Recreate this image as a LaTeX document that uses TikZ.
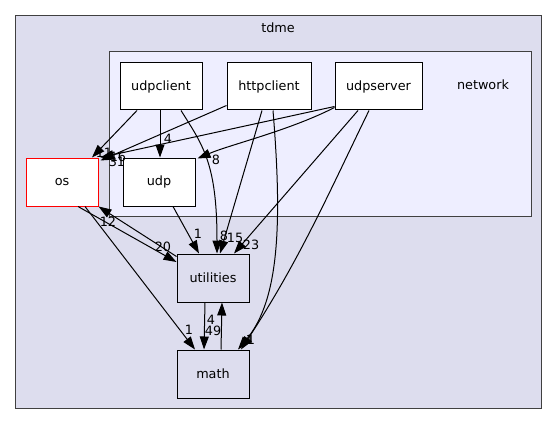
\documentclass[tikz,border=0pt]{standalone}
\usepackage{fontspec}
\setmainfont{DejaVu Sans}
\usetikzlibrary{arrows.meta,calc}
\definecolor{clusterouter}{HTML}{DDDDEE}
\definecolor{clusterinner}{HTML}{EEEEFF}
\definecolor{clusterframe}{HTML}{404040}
\begin{document}
\begin{tikzpicture}[x=1pt,y=-1pt,
  font=\fontsize{12.8}{15}\selectfont,
  dirbox/.style={draw=black, line width=1pt, minimum height=47pt, inner sep=0pt},
  cluster/.style={draw=clusterframe, line width=1pt},
  edge/.style={draw=black, line width=1pt, -{Triangle[length=13pt,width=9pt]}},
  elabel/.style={inner sep=0pt, font=\fontsize{12.8}{15}\selectfont}]
\fill[white] (0,0) rectangle (559,425);
\useasboundingbox (0,0) rectangle (559,425);
% clusters
\draw[cluster, fill=clusterouter] (15.5,15.5) rectangle (541,408);
\node[inner sep=0pt] (tdmelabel) at (278,28) {tdme};
\draw[cluster, fill=clusterinner] (109,52) rectangle (531,216);
\node[inner sep=0pt] (networklabel) at (483,85) {network};
% nodes
\node[dirbox, fill=white, minimum width=82pt] (udpclient) at (161,86.5) {udpclient};
\node[dirbox, fill=white, minimum width=84pt] (httpclient) at (269,86.5) {httpclient};
\node[dirbox, fill=white, minimum width=87pt] (udpserver) at (378.5,86.5) {udpserver};
\node[dirbox, draw=red, fill=white, minimum width=72pt, minimum height=48pt] (os) at (62,182) {os};
\node[dirbox, fill=white, minimum width=72pt, minimum height=48pt] (udp) at (159,182) {udp};
\node[dirbox, fill=clusterouter, minimum width=72pt, minimum height=48pt] (utilities) at (213,278) {utilities};
\node[dirbox, fill=clusterouter, minimum width=72pt, minimum height=48pt] (math) at (213,374) {math};
% edges
\draw[edge] ($(udpclient.south)+(-24,0)$) -- ($(os.north)+(30,0)$);
\draw[edge] ($(udpclient.south)+(-1,0)$) -- ($(udp.north)+(1,0)$);
\draw[edge] ($(udpclient.south)+(20,0)$) .. controls +(22,35) and +(0,-90) .. ($(utilities.north)+(4,0)$);
\draw[edge] ($(httpclient.west)+(0,19)$) -- ($(os.north east)+(2,3)$);
\draw[edge] ($(httpclient.south)+(-7,0)$) -- ($(utilities.north)+(7,0)$);
\draw[edge] ($(httpclient.south)+(4,0)$) .. controls +(9,110) and +(42,-50) .. ($(math.north)+(25,0)$);
\draw[edge] ($(udpserver.west)+(0,20)$) -- ($(os.north east)+(2,0)$);
\draw[edge] ($(udpserver.west)+(0,21)$) .. controls +(-45,23) and +(33,-14) .. ($(udp.north east)+(2,1)$);
\draw[edge] ($(udpserver.south)+(-20.5,0)$) -- ($(utilities.north)+(21,0)$);
\draw[edge] ($(udpserver.south)+(-9.5,0)$) .. controls +(-39,80) and +(59,-90) .. ($(math.north)+(28,0)$);
\draw[edge] ($(udp.south)+(14,0)$) -- ($(utilities.north)+(-14,0)$);
\draw[edge] ($(os.south)+(16,0)$) -- ($(utilities.west)+(0,-16)$);
\draw[edge] ($(utilities.north west)+(0,3)$) -- ($(os.south east)+(0,0)$);
\draw[edge] ($(os.south)+(23,0)$) -- ($(math.north)+(-18,0)$);
\draw[edge] ($(utilities.south)+(-8,0)$) -- ($(math.north)+(-9,0)$);
\draw[edge] ($(math.north)+(8,0)$) -- ($(utilities.south)+(9,0)$);
% edge labels
\node[elabel] (l11) at (104,153) {11};
\node[elabel] (l4a) at (168,139) {4};
\node[elabel] (l16) at (118,157) {16};
\node[elabel] (l31) at (117,162) {31};
\node[elabel] (l8a) at (216,160) {8};
\node[elabel] (l1a) at (198,234) {1};
\node[elabel] (l8b) at (224,236) {8};
\node[elabel] (l15) at (235,238) {15};
\node[elabel] (l23) at (251,245) {23};
\node[elabel] (l20) at (163,247) {20};
\node[elabel] (l12) at (108,222) {12};
\node[elabel] (l1b) at (189,330) {1};
\node[elabel] (l4b) at (211,320) {4};
\node[elabel] (l49) at (213,331) {49};
\node[elabel] (l1c) at (250,340) {1};
\node[elabel] (l1d) at (251,340) {1};
\end{tikzpicture}
\end{document}
